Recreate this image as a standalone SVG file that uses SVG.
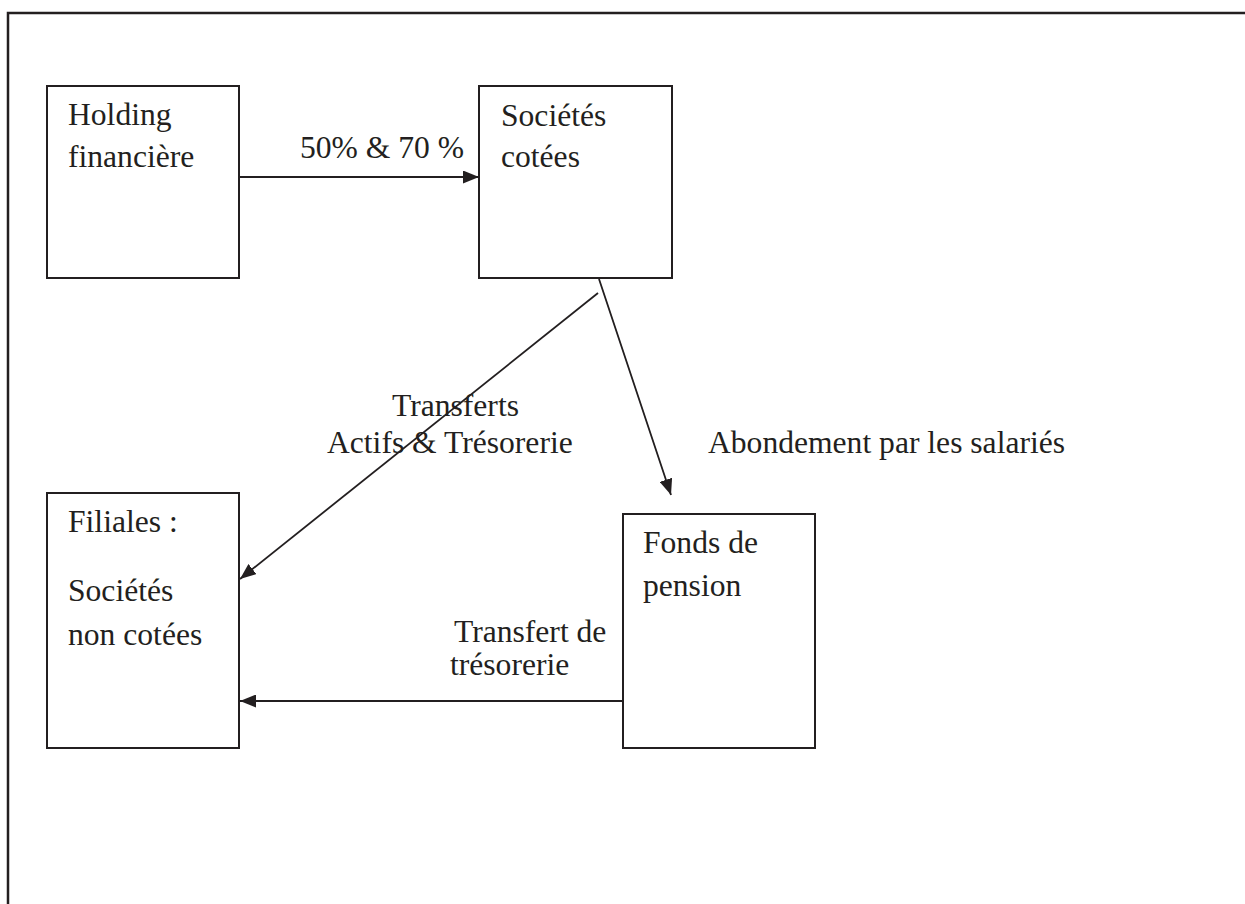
<svg xmlns="http://www.w3.org/2000/svg" width="1245" height="904" viewBox="0 0 1245 904">
  <style>
    .frame { fill: none; stroke: #231f20; stroke-width: 2.5; }
    .box { fill: #ffffff; stroke: #231f20; stroke-width: 2; }
    .link { fill: none; stroke: #231f20; stroke-width: 1.8; marker-end: url(#head); }
    text { font-family: "Liberation Serif", "Times New Roman", serif; font-size: 31.6px; fill: #231f20; }
  </style>
  <defs>
    <marker id="head" viewBox="0 0 16 13" refX="16" refY="6.5" markerWidth="16" markerHeight="13" markerUnits="userSpaceOnUse" orient="auto">
      <path d="M0,0 L16,6.5 L0,13 Z" fill="#231f20"/>
    </marker>
  </defs>

  <!-- page frame, running off the right and bottom edges -->
  <rect class="frame" x="8" y="13" width="1260" height="920"/>

  <g id="holding">
    <rect class="box" x="47" y="86" width="192" height="192"/>
    <text x="68" y="125">Holding</text>
    <text x="68" y="167">financière</text>
  </g>

  <g id="cotees">
    <rect class="box" x="479" y="86" width="193" height="192"/>
    <text x="501" y="126">Sociétés</text>
    <text x="501" y="167">cotées</text>
  </g>

  <g id="filiales">
    <rect class="box" x="47" y="493" width="192" height="255"/>
    <text x="68" y="532">Filiales :</text>
    <text x="68" y="601">Sociétés</text>
    <text x="68" y="645">non cotées</text>
  </g>

  <g id="fonds">
    <rect class="box" x="623" y="514" width="192" height="234"/>
    <text x="643" y="553">Fonds de</text>
    <text x="643" y="596">pension</text>
  </g>

  <g id="connectors">
    <line class="link" x1="239" y1="177" x2="479" y2="177"/>
    <line class="link" x1="599" y1="279" x2="671" y2="495"/>
    <line class="link" x1="598" y1="293" x2="240" y2="579"/>
    <line class="link" x1="623" y1="701" x2="240" y2="701"/>
  </g>

  <g id="labels">
    <text x="300" y="158">50% &amp; 70 %</text>
    <text x="392" y="416">Transferts</text>
    <text x="327" y="453">Actifs &amp; Trésorerie</text>
    <text x="708" y="453">Abondement par les salariés</text>
    <text x="454" y="642">Transfert de</text>
    <text x="450" y="675">trésorerie</text>
  </g>
</svg>
